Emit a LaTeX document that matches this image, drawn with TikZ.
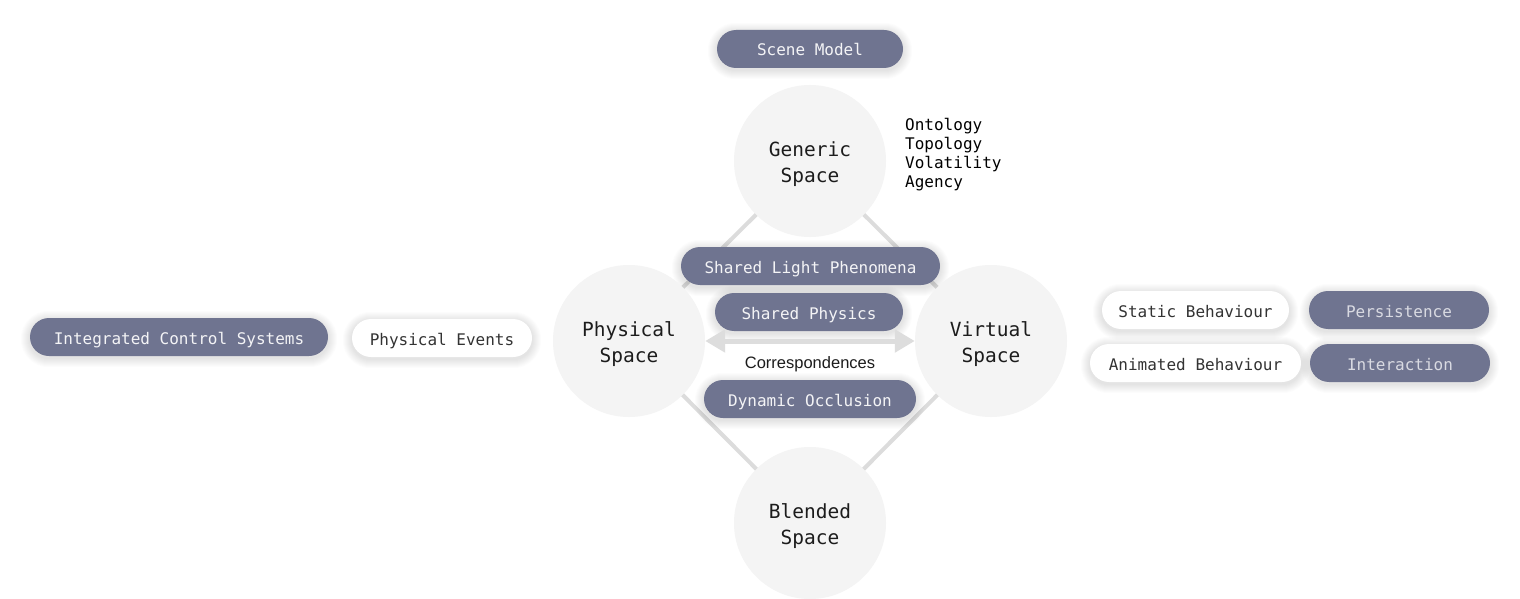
\documentclass[tikz,border=0pt]{standalone}
\usepackage{fontspec}
\setmainfont{Liberation Sans}
\setmonofont{DejaVu Sans Mono}
\usetikzlibrary{arrows.meta,backgrounds}
\definecolor{pilldark}{HTML}{6F7490}
\definecolor{circfill}{HTML}{F4F4F4}
\definecolor{linegray}{HTML}{DCDCDC}
\definecolor{arrgray}{HTML}{DDDDDD}
\definecolor{darktext}{HTML}{1C1C1C}
\definecolor{pilltext}{HTML}{F4F4F6}
\definecolor{pilltextdim}{HTML}{D9DAE2}
\definecolor{whitetext}{HTML}{333333}
\newcommand\pillshadow[1]{%
  \begin{pgfonlayer}{background}
    \foreach \k in {1,...,9}{
      \pgfmathsetmacro\rr{19+\k}
      \fill[black,opacity=0.011,rounded corners=\rr pt]
        ([xshift=-\k pt,yshift=-\k pt-2pt]#1.south west) rectangle
        ([xshift=\k pt,yshift=\k pt-2pt]#1.north east);
    }
  \end{pgfonlayer}}
\tikzset{
  space/.style={circle,fill=circfill,minimum size=152pt,inner sep=0pt},
  spacetext/.style={align=center,inner sep=0pt,yshift=-3pt,
    font=\ttfamily\fontsize{19.5}{26}\selectfont,text=darktext},
  pill/.style={rounded corners=19pt,minimum height=38pt,inner sep=0pt,
    text height=14pt,text depth=0pt,
    font=\ttfamily\fontsize{16}{19}\selectfont},
  darkpill/.style={pill,fill=pilldark,text=pilltext},
  dimpill/.style={pill,fill=pilldark,text=pilltextdim},
  whitepill/.style={pill,fill=white,text=whitetext},
  conn/.style={draw=linegray,line width=4pt},
  corr/.style={draw=arrgray,line width=5pt,{Triangle[length=20pt,width=22pt]}-{Triangle[length=20pt,width=22pt]}},
}
\begin{document}
\begin{tikzpicture}[x=1pt,y=-1pt]
\useasboundingbox (0,0) rectangle (1520,599);
\begin{pgfonlayer}{background}
  \fill[white] (0,0) rectangle (1520,599);
\end{pgfonlayer}

% circles
\node[space,label={[spacetext]center:Generic\\Space}] (gen) at (810,161) {};
\node[space,label={[spacetext]center:Physical\\Space}] (phys) at (629,341) {};
\node[space,label={[spacetext]center:Virtual\\Space}] (virt) at (991,341) {};
\node[space,label={[spacetext]center:Blended\\Space}] (blend) at (810,523) {};

\begin{pgfonlayer}{background}
  \draw[conn] (gen.center) -- (phys.center);
  \draw[conn] (gen.center) -- (virt.center);
  \draw[conn] (blend.center) -- (phys.center);
  \draw[conn] (blend.center) -- (virt.center);
\end{pgfonlayer}

\draw[corr] (phys) -- (virt);
\node[font=\fontsize{16.5}{19}\selectfont,text=darktext] (corrlbl) at (810,364) {Correspondences};

% attributes
\node[anchor=west,align=left,inner sep=0pt,font=\ttfamily\fontsize{16}{19}\selectfont,text=black]
  (attrs) at (905,155) {Ontology\\Topology\\Volatility\\Agency};

% pills
\node[darkpill,minimum width=186pt] (scene) at (810,49) {Scene Model};
\pillshadow{scene}
\node[darkpill,minimum width=259pt] (light) at (810.5,266) {Shared Light Phenomena};
\pillshadow{light}
\node[darkpill,minimum width=188pt] (physics) at (809,312) {Shared Physics};
\pillshadow{physics}
\node[darkpill,minimum width=212pt] (occl) at (810,399) {Dynamic Occlusion};
\pillshadow{occl}
\node[darkpill,minimum width=298pt] (ics) at (179,337) {Integrated Control Systems};
\pillshadow{ics}
\node[whitepill,minimum width=180pt] (pevents) at (442,338) {Physical Events};
\pillshadow{pevents}
\node[whitepill,minimum width=187pt] (static) at (1195.5,310) {Static Behaviour};
\pillshadow{static}
\node[dimpill,minimum width=180pt] (persist) at (1399,310) {Persistence};
\pillshadow{persist}
\node[whitepill,minimum width=211pt] (anim) at (1195.5,363) {Animated Behaviour};
\pillshadow{anim}
\node[dimpill,minimum width=180pt] (interact) at (1400,363) {Interaction};
\pillshadow{interact}
\end{tikzpicture}
\end{document}
